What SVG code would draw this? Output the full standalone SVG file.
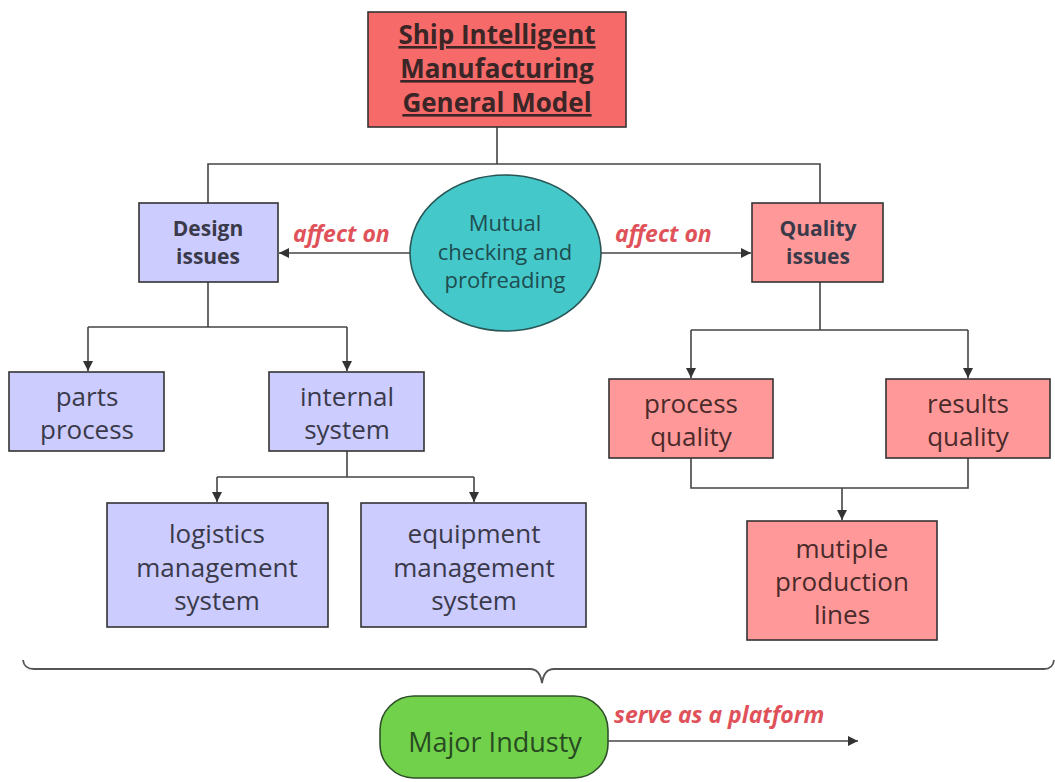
<svg xmlns="http://www.w3.org/2000/svg" width="1055" height="782" viewBox="0 0 1055 782">
  <style>
    .box { stroke: #333; stroke-width: 1.6; }
    .blue { fill: #ccccff; }
    .pink { fill: #ff9999; }
    .wire { fill: none; stroke: #444; stroke-width: 1.6; }
    .t { font-family: "Open Sans", "Noto Sans", sans-serif; text-anchor: middle; }
    .node { font-size: 26px; fill: #3a3a4a; }
    .pinktxt { fill: #4a2a2a; }
    .head { font-size: 21px; font-weight: bold; fill: #3a3a4a; }
    .lbl { font-family: "Open Sans", "Noto Sans", sans-serif; font-size: 23px; font-weight: bold; font-style: italic; fill: #e0525a; }
  </style>
  <defs>
    <marker id="arr" viewBox="0 0 10 10" refX="10" refY="5" markerWidth="10" markerHeight="10" markerUnits="userSpaceOnUse" orient="auto">
      <path d="M0,0 L10,5 L0,10 z" fill="#333"/>
    </marker>
  </defs>
  <rect width="1055" height="782" fill="#ffffff"/>

  <!-- connectors -->
  <g id="connectors">
    <path class="wire" d="M497,127 V164 M208,203 V164 H820 V203"/>
    <path class="wire" d="M410,253 H279" marker-end="url(#arr)"/>
    <path class="wire" d="M601,253 H751" marker-end="url(#arr)"/>
    <path class="wire" d="M208,282 V327 M88,327 H347"/>
    <path class="wire" d="M88,327 V371" marker-end="url(#arr)"/>
    <path class="wire" d="M347,327 V371" marker-end="url(#arr)"/>
    <path class="wire" d="M347,451 V477 M217,477 H474"/>
    <path class="wire" d="M217,477 V502" marker-end="url(#arr)"/>
    <path class="wire" d="M474,477 V502" marker-end="url(#arr)"/>
    <path class="wire" d="M820,282 V330 M691,330 H968"/>
    <path class="wire" d="M691,330 V378" marker-end="url(#arr)"/>
    <path class="wire" d="M968,330 V378" marker-end="url(#arr)"/>
    <path class="wire" d="M691,458 V488 H968 V458"/>
    <path class="wire" d="M842,488 V520" marker-end="url(#arr)"/>
    <path class="wire" d="M608,741 H858" marker-end="url(#arr)"/>
    <!-- curly brace grouping the model -->
    <path fill="none" stroke="#555" stroke-width="1.8" d="M23,660 Q24,669 34,669 H530 Q540,669 542,683 Q544,669 554,669 H1044 Q1053,669 1054,660"/>
  </g>

  <g id="title">
    <rect class="box" x="368" y="12" width="258" height="115" fill="#f76a6a"/>
    <g class="t" font-size="26" font-weight="bold" fill="#3a2626" text-decoration="underline">
      <text x="497" y="44">Ship Intelligent</text>
      <text x="497" y="78">Manufacturing</text>
      <text x="497" y="112">General Model</text>
    </g>
  </g>

  <g id="mutual">
    <ellipse cx="505.5" cy="253" rx="95.5" ry="78" fill="#45c8ca" stroke="#2a5555" stroke-width="1.6"/>
    <g class="t" font-size="22" fill="#1e4d50">
      <text x="505" y="231">Mutual</text>
      <text x="505" y="259.5">checking and</text>
      <text x="505" y="288">profreading</text>
    </g>
  </g>

  <g id="design">
    <rect class="box blue" x="139" y="203" width="139" height="79"/>
    <text class="t head" x="208" y="236">Design</text>
    <text class="t head" x="208" y="264">issues</text>
  </g>

  <g id="quality">
    <rect class="box pink" x="752" y="203" width="131" height="79"/>
    <text class="t head pinktxt" x="818" y="236">Quality</text>
    <text class="t head pinktxt" x="818" y="264">issues</text>
  </g>

  <g id="labels">
    <text class="lbl" x="293" y="242">affect on</text>
    <text class="lbl" x="615" y="242">affect on</text>
    <text class="lbl" x="614" y="723">serve as a platform</text>
  </g>

  <g id="parts">
    <rect class="box blue" x="9" y="372" width="155" height="79"/>
    <text class="t node" x="87" y="406">parts</text>
    <text class="t node" x="87" y="439">process</text>
  </g>

  <g id="internal">
    <rect class="box blue" x="269" y="372" width="155" height="79"/>
    <text class="t node" x="347" y="406">internal</text>
    <text class="t node" x="347" y="439">system</text>
  </g>

  <g id="logistics">
    <rect class="box blue" x="107" y="503" width="221" height="124"/>
    <text class="t node" x="217" y="543">logistics</text>
    <text class="t node" x="217" y="577">management</text>
    <text class="t node" x="217" y="610">system</text>
  </g>

  <g id="equipment">
    <rect class="box blue" x="361" y="503" width="225" height="124"/>
    <text class="t node" x="474" y="543">equipment</text>
    <text class="t node" x="474" y="577">management</text>
    <text class="t node" x="474" y="610">system</text>
  </g>

  <g id="processq">
    <rect class="box pink" x="609" y="379" width="164" height="79"/>
    <text class="t node pinktxt" x="691" y="413">process</text>
    <text class="t node pinktxt" x="691" y="446">quality</text>
  </g>

  <g id="resultsq">
    <rect class="box pink" x="886" y="379" width="164" height="79"/>
    <text class="t node pinktxt" x="968" y="413">results</text>
    <text class="t node pinktxt" x="968" y="446">quality</text>
  </g>

  <g id="lines">
    <rect class="box pink" x="747" y="521" width="190" height="119"/>
    <text class="t node pinktxt" x="842" y="558">mutiple</text>
    <text class="t node pinktxt" x="842" y="591">production</text>
    <text class="t node pinktxt" x="842" y="624">lines</text>
  </g>

  <g id="major">
    <rect x="380" y="696" width="228" height="82" rx="34" ry="34" fill="#72d14a" stroke="#2f4f2a" stroke-width="1.6"/>
    <text class="t" x="495" y="752" font-size="27" fill="#274a22">Major Industy</text>
  </g>
</svg>
